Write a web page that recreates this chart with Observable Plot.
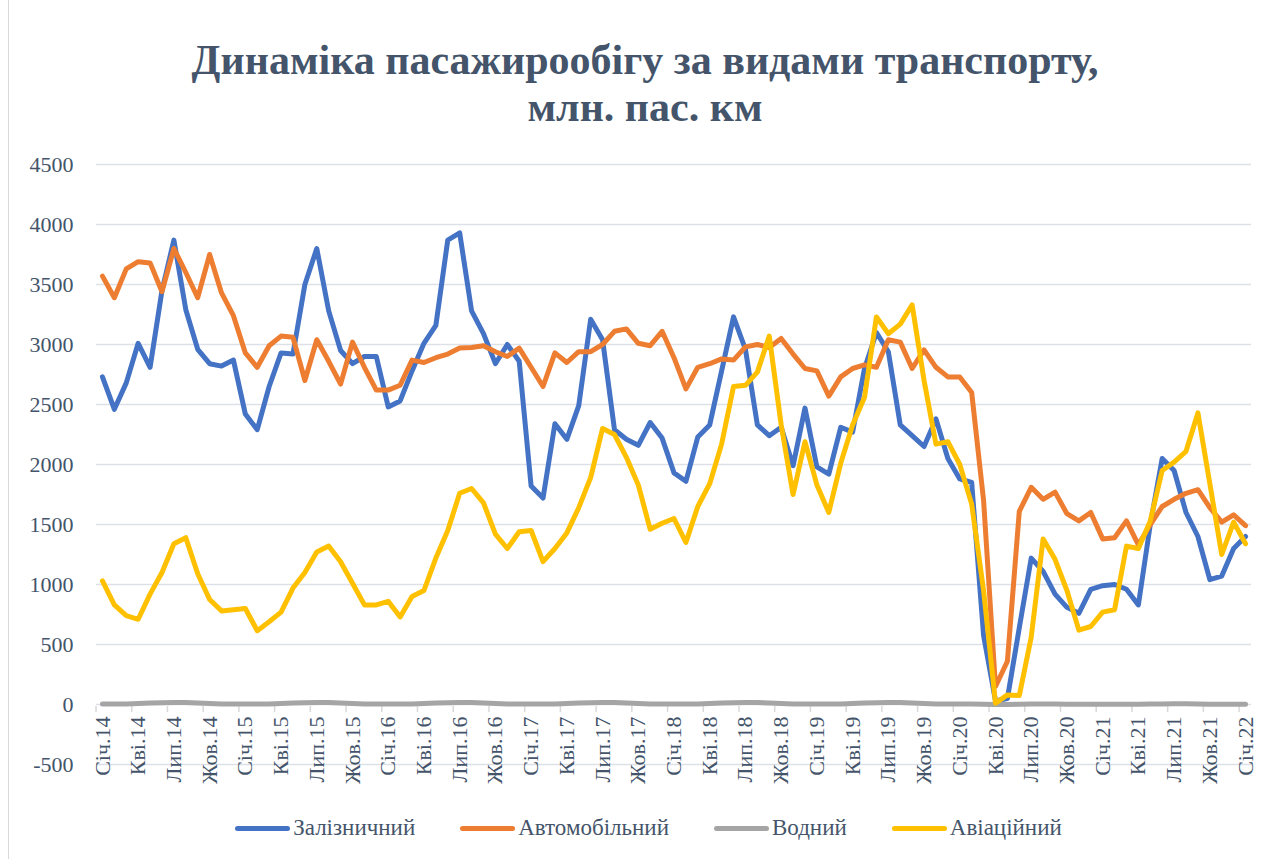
<!DOCTYPE html>
<html><head><meta charset="utf-8">
<script src="https://cdn.jsdelivr.net/npm/d3@7"></script>
<script src="https://cdn.jsdelivr.net/npm/@observablehq/plot@0.6"></script>
<style>
body{margin:0;background:#fff;}
#wrap{position:relative;width:1272px;height:859px;overflow:hidden;background:#fff;font-family:"Liberation Serif","Tinos","Times New Roman","DejaVu Serif",serif;}
#border{position:absolute;left:8px;top:0;width:1300px;height:900px;border-left:1.5px solid #d9d9d9;}
#title{position:absolute;left:0;top:37px;width:1290px;text-align:center;font-weight:bold;font-size:42px;line-height:47px;color:#44546A;}
#chart{position:absolute;left:0;top:140px;}
#legend{position:absolute;left:0;top:815px;width:1297px;display:flex;justify-content:center;gap:45px;font-size:23px;color:#44546A;}
.item{display:flex;align-items:center;}
.sw{width:55px;height:5px;border-radius:3px;margin-right:3px;}
</style></head>
<body>
<div id="wrap">
  <div id="border"></div>
  <div id="title">Динаміка пасажирообігу за видами транспорту,<br>млн. пас. км</div>
  <div id="chart"></div>
  <div id="legend"></div>
</div>
<script>
const seriesNames = ["Залізничний", "Автомобільний", "Водний", "Авіаційний"];
const seriesColors = ["#4472C4", "#ED7D31", "#A5A5A5", "#FFC000"];

const rail = [2730,2460,2680,3010,2810,3450,3870,3290,2960,2840,2820,2870,
2420,2290,2650,2930,2920,3500,3800,3280,2950,2840,2900,2900,
2480,2530,2780,3010,3160,3870,3930,3280,3090,2840,3000,2860,
1820,1720,2340,2210,2490,3210,3040,2290,2210,2160,2350,2220,
1930,1860,2230,2330,2780,3230,2960,2330,2240,2310,1990,2470,
1980,1920,2310,2270,2800,3100,2940,2330,2240,2150,2380,2050,
1880,1850,575,30,50,640,1220,1110,920,810,760,960,
990,1000,960,830,1500,2050,1950,1600,1400,1040,1070,1300,
1400];

const auto = [3570,3390,3630,3690,3680,3440,3800,3600,3390,3750,3430,3240,
2930,2810,2990,3070,3060,2700,3040,2860,2670,3020,2810,2620,
2620,2660,2870,2850,2890,2920,2970,2975,2990,2940,2900,2970,
2810,2650,2930,2850,2940,2940,3000,3110,3130,3010,2990,3110,
2890,2630,2810,2840,2880,2870,2980,3000,2975,3050,2920,2800,
2780,2570,2730,2800,2830,2810,3040,3020,2800,2955,2810,2730,
2730,2600,1700,150,360,1610,1810,1710,1770,1590,1530,1600,
1380,1390,1530,1330,1500,1650,1710,1760,1790,1640,1520,1580,
1490];

const water = [4,4,5,8,12,15,17,17,12,8,5,4,
4,4,5,8,12,15,17,17,12,8,5,4,
4,4,5,8,12,15,17,17,12,8,5,4,
4,4,5,8,12,15,17,17,12,8,5,4,
4,4,5,8,12,15,17,17,12,8,5,4,
4,4,5,8,12,15,17,17,12,8,5,4,
4,4,3,1,1,2,4,5,4,3,2,2,
2,2,2,3,4,5,6,6,5,3,2,2,
2];

const avia = [1030,830,740,710,920,1100,1340,1390,1090,875,780,790,
800,615,690,770,970,1100,1270,1320,1190,1010,830,830,
860,730,900,950,1220,1450,1760,1800,1680,1420,1300,1440,
1450,1190,1300,1430,1640,1890,2300,2250,2060,1830,1460,1510,
1550,1350,1650,1840,2170,2650,2660,2770,3070,2330,1750,2190,
1830,1600,2010,2330,2560,3230,3090,3170,3330,2700,2170,2190,
2000,1670,950,10,80,75,560,1380,1210,950,620,650,
770,790,1320,1300,1530,1950,2020,2110,2430,1840,1250,1520,
1340];

const xTickLabels = ["Січ.14","Кві.14","Лип.14","Жов.14","Січ.15","Кві.15","Лип.15","Жов.15",
"Січ.16","Кві.16","Лип.16","Жов.16","Січ.17","Кві.17","Лип.17","Жов.17",
"Січ.18","Кві.18","Лип.18","Жов.18","Січ.19","Кві.19","Лип.19","Жов.19",
"Січ.20","Кві.20","Лип.20","Жов.20","Січ.21","Кві.21","Лип.21","Жов.21","Січ.22"];
const labelStep = 3;
const yTicks = [-500,0,500,1000,1500,2000,2500,3000,3500,4000,4500];

const FONT = '"Liberation Serif","Tinos","Times New Roman","DejaVu Serif",serif';
const allSeries = [rail, auto, water, avia];
const n = rail.length;
const labelRows = xTickLabels.map((t, k) => ({i: k * labelStep, t}));
const tickPos = xTickLabels.map((t, k) => k * labelStep - 0.5);

function tickMarks(index, scales) {
  const g = d3.create("svg:g");
  const y0 = scales.y(0);
  for (const t of tickPos) {
    const x = scales.x(t);
    g.append("line").attr("x1", x).attr("x2", x).attr("y1", y0 + 2).attr("y2", y0 + 8)
      .attr("stroke", "#d9d9d9").attr("stroke-width", 1.5);
  }
  return g.node();
}

const lineMarks = allSeries.map((vals, s) =>
  Plot.line(vals.map((v, i) => ({i, v})), {
    x: "i", y: "v", stroke: seriesColors[s], strokeWidth: 5,
    strokeLinejoin: "round", strokeLinecap: "round"
  })
);

const chart = Plot.plot({
  width: 1272,
  height: 660,
  marginTop: 24,
  marginBottom: 36,
  marginLeft: 96,
  marginRight: 21,
  style: {fontFamily: FONT, fontSize: "22px", color: "#44546A", background: "transparent"},
  x: {type: "linear", domain: [-0.5, n - 0.5], axis: null},
  y: {domain: [-500, 4500], axis: null},
  marks: [
    Plot.gridY(yTicks, {stroke: "#dde1e7", strokeOpacity: 1, strokeWidth: 1.5}),
    Plot.axisY(yTicks, {tickSize: 0, tickPadding: 23, fontSize: 22, fill: "#44546A", label: null, tickFormat: d => String(d)}),
    tickMarks,
    Plot.text(labelRows, {x: "i", y: () => 0, text: "t", rotate: -90, textAnchor: "end", lineAnchor: "middle", dy: 12, fontSize: 22, fill: "#44546A"}),
    ...lineMarks
  ]
});
document.getElementById("chart").appendChild(chart);

const legend = document.getElementById("legend");
seriesNames.forEach((name, s) => {
  const it = document.createElement("div");
  it.className = "item";
  it.innerHTML = `<span class="sw" style="background:${seriesColors[s]}"></span><span>${name}</span>`;
  legend.appendChild(it);
});
</script>
</body></html>
